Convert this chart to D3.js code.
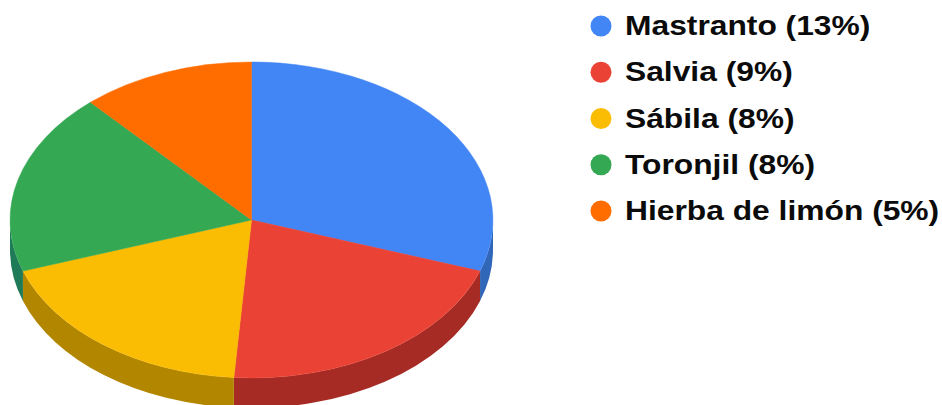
<!DOCTYPE html>
<html>
<head>
<meta charset="utf-8">
<script src="https://cdn.jsdelivr.net/npm/d3@7"></script>
<style>
html,body{margin:0;padding:0;background:#fff;overflow:hidden}
svg{display:block}
text{font-family:"Liberation Sans",Arial,sans-serif;font-weight:700;fill:#0b0b0b}
</style>
</head>
<body>
<svg id="chart" width="942" height="405"></svg>
<script>
// Plants and their shares
const names = ["Mastranto", "Salvia", "Sábila", "Toronjil", "Hierba de limón"];
const shares = [13, 9, 8, 8, 5];
const topColors = ["#4285f4", "#ea4335", "#fbbc04", "#34a853", "#ff6d01"];
const wallColors = ["#3067b8", "#a52b24", "#b38600", "#1f7a58", "#b34c00"];

const svg = d3.select("#chart");
const cx = 251.5, cy = 220, rx = 241.5, ry = 158, depth = 30;

const slices = d3.pie().value(d => d).sort(null)(shares);
const arc = d3.arc().innerRadius(0).outerRadius(1);

// Rim point of the tilted disc at a clockwise angle measured from the top
const rim = (a, dy = 0) => [cx + rx * Math.sin(a), cy - ry * Math.cos(a) + dy];

// Side wall of one slice: the part of its outer edge on the near half of the disc
function wallPath(start, end) {
  const a0 = Math.max(start, Math.PI / 2), a1 = Math.min(end, 3 * Math.PI / 2);
  if (a1 <= a0) return null;
  const [x0, y0] = rim(a0);
  const [x1, y1] = rim(a1);
  const [x2, y2] = rim(a1, depth);
  const [x3, y3] = rim(a0, depth);
  const large = a1 - a0 > Math.PI ? 1 : 0;
  return `M${x0},${y0}A${rx},${ry} 0 ${large} 1 ${x1},${y1}L${x2},${y2}A${rx},${ry} 0 ${large} 0 ${x3},${y3}Z`;
}

svg.append("g").selectAll("path")
  .data(slices)
  .join("path")
  .attr("d", d => wallPath(d.startAngle, d.endAngle))
  .attr("fill", (d, i) => wallColors[i]);

// Top face: unit-radius arcs stretched onto the ellipse
svg.append("g")
  .attr("transform", `translate(${cx},${cy}) scale(${rx},${ry})`)
  .selectAll("path")
  .data(slices)
  .join("path")
  .attr("d", arc)
  .attr("fill", (d, i) => topColors[i])
  .attr("stroke", (d, i) => topColors[i])
  .attr("stroke-width", 0.5)
  .attr("vector-effect", "non-scaling-stroke");

// Legend: labels are set slightly wide
const legendY = d3.scalePoint().domain(names).range([26, 211]);
const legend = svg.append("g").selectAll("g")
  .data(names)
  .join("g")
  .attr("transform", d => `translate(0,${legendY(d)})`);

legend.append("circle")
  .attr("cx", 601)
  .attr("cy", 0)
  .attr("r", 10.5)
  .attr("fill", (d, i) => topColors[i]);

legend.append("text")
  .attr("transform", "translate(625,9) scale(1.135,1)")
  .attr("font-size", 28)
  .text((d, i) => `${d} (${shares[i]}%)`);
</script>
</body>
</html>
